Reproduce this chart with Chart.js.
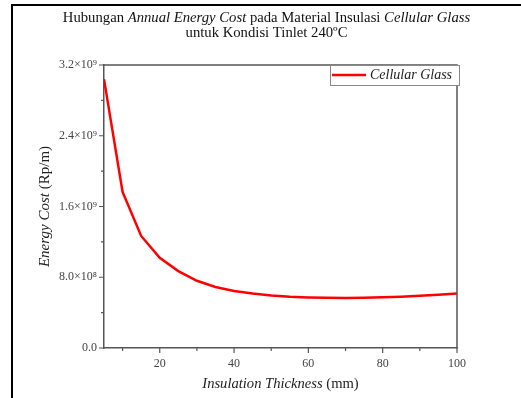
<!DOCTYPE html>
<html><head><meta charset="utf-8">
<script src="https://cdn.jsdelivr.net/npm/chart.js@4/dist/chart.umd.min.js"></script>
<style>html,body{margin:0;padding:0;background:#fff;}canvas{display:block;}</style>
</head><body>
<canvas id="c" width="521" height="398"></canvas>
<script>
const thickness = [5,10,15,20,25,30,35,40,45,50,55,60,65,70,75,80,85,90,95,100];
const energyCost = [3.04e9,1.765e9,1.267e9,1.02e9,0.87e9,0.76e9,0.69e9,0.645e9,0.615e9,0.595e9,0.58e9,0.572e9,0.567e9,0.566e9,0.568e9,0.573e9,0.58e9,0.59e9,0.602e9,0.615e9];
const seriesName = 'Cellular Glass';
const xMajorTicks = [20,40,60,80,100];
const xMinorTicks = [10,30,50,70,90];
const yMajorTicks = [0,8e8,1.6e9,2.4e9,3.2e9];
const yTickLabels = ['0.0','8.0×10⁸','1.6×10⁹','2.4×10⁹','3.2×10⁹'];
const yMinorTicks = [4e8,1.2e9,2.0e9,2.8e9];
const titleLine1 = [['Hubungan ',false],['Annual Energy Cost',true],[' pada Material Insulasi ',false],['Cellular Glass',true]];
const titleLine2 = [['untuk Kondisi Tinlet 240ºC',false]];
const xTitle = [['Insulation Thickness',true],[' (mm)',false]];
const yTitle = [['Energy Cost',true],[' (Rp/m)',false]];

const FONT = "'Liberation Serif', 'Times New Roman', serif";
const AXIS = '#555';

function richText(ctx, parts, cx, cy, size, color) {
  ctx.save();
  ctx.fillStyle = color;
  ctx.textBaseline = 'middle';
  ctx.textAlign = 'left';
  let total = 0;
  const widths = parts.map(p => {
    ctx.font = (p[1] ? 'italic ' : '') + size + 'px ' + FONT;
    const w = ctx.measureText(p[0]).width; total += w; return w;
  });
  let x = cx - total / 2;
  parts.forEach((p, i) => {
    ctx.font = (p[1] ? 'italic ' : '') + size + 'px ' + FONT;
    ctx.fillText(p[0], x, cy);
    x += widths[i];
  });
  ctx.restore();
}

const decor = {
  id: 'decor',
  beforeDraw(chart) {
    const ctx = chart.ctx;
    ctx.save();
    ctx.fillStyle = '#fff';
    ctx.fillRect(0, 0, chart.width, chart.height);
    ctx.strokeStyle = '#000';
    ctx.lineWidth = 2;
    ctx.beginPath();
    ctx.moveTo(12, chart.height); ctx.lineTo(12, 5); ctx.lineTo(chart.width, 5);
    ctx.stroke();
    ctx.restore();
  },
  afterDraw(chart) {
    const ctx = chart.ctx;
    const a = chart.chartArea;
    const xs = chart.scales.x, ys = chart.scales.y;
    ctx.save();
    ctx.strokeStyle = AXIS;
    ctx.lineWidth = 1.5;
    ctx.beginPath();
    ctx.moveTo(a.left, a.top); ctx.lineTo(a.right, a.top); ctx.lineTo(a.right, a.bottom);
    ctx.stroke();
    ctx.lineWidth = 1.2;
    ctx.beginPath();
    xs.ticks.forEach((t, i) => {
      const px = xs.getPixelForTick(i);
      const len = xMajorTicks.includes(t.value) ? 5 : 3;
      ctx.moveTo(px, a.bottom); ctx.lineTo(px, a.bottom + len);
    });
    ys.ticks.forEach((t, i) => {
      const py = ys.getPixelForTick(i);
      const len = yMajorTicks.includes(t.value) ? 5 : 3;
      ctx.moveTo(a.left, py); ctx.lineTo(a.left - len, py);
    });
    ctx.stroke();
    ctx.restore();

    richText(ctx, titleLine1, 266.5, 18, 14.7, '#111');
    richText(ctx, titleLine2, 266.5, 33.5, 14.7, '#111');
    richText(ctx, xTitle, (a.left + a.right) / 2, 384, 14.6, '#222');
    ctx.save();
    ctx.translate(45, (a.top + a.bottom) / 2);
    ctx.rotate(-Math.PI / 2);
    richText(ctx, yTitle, 0, 0, 15, '#222');
    ctx.restore();

    const ds = chart.data.datasets[0];
    const right = a.right + 2, left = right - 129, top = a.top, h = 20;
    ctx.save();
    ctx.fillStyle = '#fff';
    ctx.fillRect(left, top, right - left, h);
    ctx.strokeStyle = '#888';
    ctx.lineWidth = 1;
    ctx.strokeRect(left + 0.5, top + 0.5, right - left, h);
    ctx.strokeStyle = ds.borderColor;
    ctx.lineWidth = ds.borderWidth;
    ctx.beginPath(); ctx.moveTo(left + 2, top + 10); ctx.lineTo(left + 36, top + 10); ctx.stroke();
    ctx.fillStyle = '#222';
    ctx.font = 'italic 14px ' + FONT;
    ctx.textBaseline = 'middle';
    ctx.fillText(ds.label, left + 40, top + 10.5);
    ctx.restore();
  }
};

new Chart(document.getElementById('c'), {
  type: 'line',
  data: {
    datasets: [{
      label: seriesName,
      data: thickness.map((x, i) => ({x, y: energyCost[i]})),
      borderColor: '#ff0000',
      backgroundColor: '#ff0000',
      borderWidth: 2.5,
      pointRadius: 0,
      tension: 0,
      fill: false
    }]
  },
  options: {
    responsive: false,
    animation: false,
    layout: { padding: { left: 0, top: 65, right: 64, bottom: 0 } },
    plugins: { legend: { display: false }, title: { display: false }, tooltip: { enabled: false } },
    scales: {
      x: {
        type: 'linear', min: 5, max: 100,
        afterBuildTicks: s => { s.ticks = [...xMajorTicks, ...xMinorTicks].sort((p, q) => p - q).map(v => ({value: v})); },
        afterFit: s => { s.height = 50; },
        grid: { display: false, drawTicks: false },
        border: { display: true, color: AXIS, width: 1.5 },
        ticks: {
          autoSkip: false, maxRotation: 0, padding: 9,
          color: '#444', font: { family: FONT, size: 12 },
          callback: v => xMajorTicks.includes(v) ? String(v) : ''
        }
      },
      y: {
        type: 'linear', min: 0, max: 3.2e9,
        afterBuildTicks: s => { s.ticks = [...yMajorTicks, ...yMinorTicks].sort((p, q) => p - q).map(v => ({value: v})); },
        afterFit: s => { s.width = 104; },
        grid: { display: false, drawTicks: false },
        border: { display: true, color: AXIS, width: 1.5 },
        ticks: {
          autoSkip: false, padding: 7,
          color: '#444', font: { family: FONT, size: 12 },
          callback: v => { const i = yMajorTicks.indexOf(v); return i >= 0 ? yTickLabels[i] : ''; }
        }
      }
    }
  },
  plugins: [decor]
});
</script>
</body></html>
